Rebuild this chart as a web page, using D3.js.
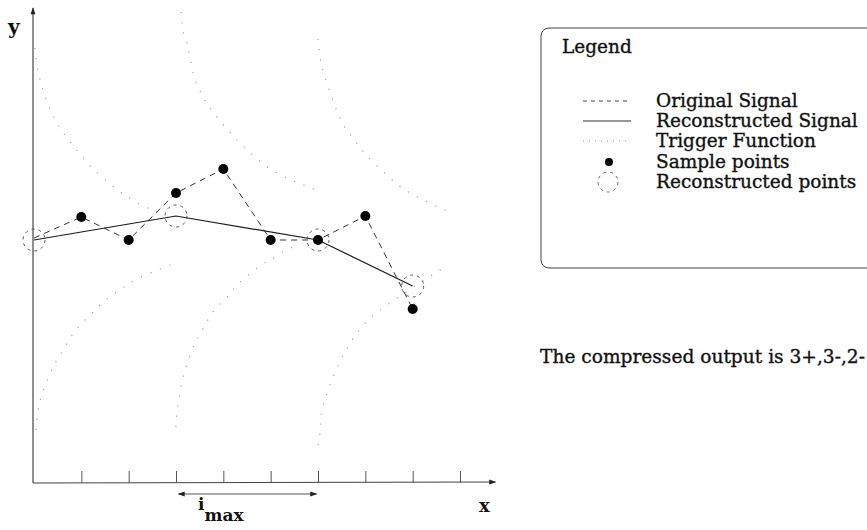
<!DOCTYPE html>
<html>
<head>
<meta charset="utf-8">
<script src="https://cdn.jsdelivr.net/npm/d3@7"></script>
<style>
  html, body { margin: 0; padding: 0; background: #fff; }
  svg { display: block; }
  text { font-family: "DejaVu Serif", "Liberation Serif", serif; fill: #111; }
  text.body { stroke: #111; stroke-width: 0.35px; }
</style>
</head>
<body>
<svg id="chart" width="867" height="530"></svg>
<script>
// Sample index and original signal values
const sampleIndex = [0, 1, 2, 3, 4, 5, 6, 7, 8];
const originalValues = [24.5, 26.6, 24.3, 29.0, 31.4, 24.3, 24.3, 26.7, 17.4];
// Samples drawn as filled dots (the first one coincides with a reconstructed point)
const dotIndex = [1, 2, 3, 4, 5, 6, 7, 8];

// Reconstructed points (segment end points) and their values
const reconIndex = [0, 3, 6, 8];
const reconValues = [24.3, 26.7, 24.3, 19.7];

// Tick positions on the x axis
const tickValues = [1, 2, 3, 4, 5, 6, 7, 8, 9];

// Trigger function bounds for each segment: [index, value]
const triggerUpper0 = [[0.02, 43.5], [0.085, 41.2], [0.19, 39.3], [0.32, 37.6], [0.55, 35.5], [0.85, 33.6], [0.97, 32.9], [1.23, 31.5], [1.80, 29.2], [2.05, 28.4], [2.35, 27.6], [2.58, 27.2], [2.79, 26.9]];
const triggerLower0 = [[0.04, 5.3], [0.085, 7.2], [0.15, 8.6], [0.40, 11.6], [0.51, 12.5], [0.68, 13.8], [0.85, 15.1], [1.08, 16.3], [1.31, 17.4], [1.54, 18.4], [1.71, 19.0], [1.90, 19.6], [2.18, 20.4], [2.56, 21.2], [2.88, 21.8]];
const triggerUpper3 = [[3.11, 47.1], [3.15, 45.1], [3.23, 44.1], [3.38, 40.7], [3.55, 38.8], [3.72, 37.5], [4.27, 34.4], [4.90, 31.7], [5.39, 30.4], [5.69, 29.8], [5.90, 29.4], [6.11, 29.1]];
const triggerLower3 = [[3.0, 5.6], [3.02, 7.1], [3.07, 8.6], [3.15, 10.6], [3.40, 14.0], [3.51, 14.9], [3.78, 17.1], [4.08, 18.6], [4.29, 19.8], [4.80, 21.8], [4.99, 22.3], [5.26, 23.1], [5.48, 23.6], [5.58, 23.8]];
const triggerUpper6 = [[6.0, 44.4], [6.07, 41.9], [6.41, 37.1], [6.55, 35.7], [6.74, 34.5], [7.02, 32.8], [7.72, 29.7], [7.91, 29.1], [8.10, 28.6], [8.18, 28.4], [8.69, 27.3], [8.86, 27.1]];
const triggerLower6 = [[6.0, 3.8], [6.05, 5.3], [6.07, 6.9], [6.11, 7.8], [6.47, 12.2], [7.02, 16.1], [8.69, 21.6]];
const triggerCurves = [triggerUpper0, triggerLower0, triggerUpper3, triggerLower3, triggerUpper6, triggerLower6];

const legendLabels = ["Original Signal", "Reconstructed Signal", "Trigger Function", "Sample points", "Reconstructed points"];
const outputText = "The compressed output is 3+,3-,2-";

const svg = d3.select("#chart");

const x = d3.scaleLinear().domain([0, 9]).range([34, 460]);
const y = d3.scaleLinear().domain([0, 47.3]).range([483, 10]);

// arrow heads
const defs = svg.append("defs");
defs.append("marker")
  .attr("id", "arrow")
  .attr("viewBox", "0 0 10 10")
  .attr("refX", 9).attr("refY", 5)
  .attr("markerWidth", 9).attr("markerHeight", 7)
  .attr("markerUnits", "userSpaceOnUse")
  .attr("orient", "auto-start-reverse")
  .append("path").attr("d", "M0,1.5 L10,5 L0,8.5 Z").attr("fill", "#222");

// axes
svg.append("line")
  .attr("x1", x(0) - 1).attr("y1", y(0))
  .attr("x2", x(0) - 1).attr("y2", y(47.3) - 2)
  .attr("stroke", "#333").attr("stroke-width", 1.1)
  .attr("marker-end", "url(#arrow)");
svg.append("line")
  .attr("x1", x(0) - 1).attr("y1", y(0))
  .attr("x2", x(9.75)).attr("y2", y(0.1))
  .attr("stroke", "#444").attr("stroke-width", 1.1)
  .attr("marker-end", "url(#arrow)");

const xAxis = d3.axisBottom(x).tickValues(tickValues).tickSize(-12).tickFormat("");
const gx = svg.append("g").attr("transform", `translate(0,${y(0)})`).call(xAxis);
gx.select(".domain").remove();
gx.selectAll(".tick line").attr("stroke", "#555").attr("stroke-width", 1);

// axis labels
svg.append("text").attr("x", 8).attr("y", 34)
  .style("font-weight", "bold").style("font-size", "20px").text("y");
svg.append("text").attr("x", 479).attr("y", 512)
  .style("font-weight", "bold").style("font-size", "18px").text("x");

// i_max bracket
svg.append("line")
  .attr("x1", x(3.05)).attr("y1", 494)
  .attr("x2", x(5.97)).attr("y2", 494)
  .attr("stroke", "#555").attr("stroke-width", 1)
  .attr("marker-start", "url(#arrow)")
  .attr("marker-end", "url(#arrow)");
const imax = svg.append("text").attr("x", 198).attr("y", 510)
  .style("font-weight", "bold").style("font-size", "17px");
imax.append("tspan").text("i");
imax.append("tspan").attr("dx", 0).attr("dy", 11).text("max");

// trigger function (dotted)
svg.append("g").selectAll("path").data(triggerCurves).join("path")
  .attr("d", d => d3.line().x(p => x(p[0])).y(p => y(p[1])).curve(d3.curveCatmullRom)(d))
  .attr("fill", "none").attr("stroke", "#9a9a9a").attr("stroke-width", 1.1)
  .attr("stroke-dasharray", "1.2 9");

// original signal (dashed)
const lineGen = d3.line().x(d => x(d[0])).y(d => y(d[1]));
svg.append("path")
  .attr("d", lineGen(sampleIndex.map((i, k) => [i, originalValues[k]])))
  .attr("fill", "none").attr("stroke", "#333").attr("stroke-width", 1)
  .attr("stroke-dasharray", "6 5");

// reconstructed signal (solid)
svg.append("path")
  .attr("d", lineGen(reconIndex.map((i, k) => [i, reconValues[k]])))
  .attr("fill", "none").attr("stroke", "#1a1a1a").attr("stroke-width", 1.2);

// reconstructed points (dashed circles)
svg.append("g").selectAll("circle").data(reconIndex).join("circle")
  .attr("cx", i => x(i)).attr("cy", (i, k) => y(reconValues[k]))
  .attr("r", 11).attr("fill", "none").attr("stroke", "#555")
  .attr("stroke-width", 1).attr("stroke-dasharray", "3 4");

// sample points
svg.append("g").selectAll("circle").data(dotIndex).join("circle")
  .attr("cx", i => x(i)).attr("cy", i => y(originalValues[i]))
  .attr("r", 5).attr("fill", "#000");

// legend
const lg = svg.append("g");
lg.append("rect").attr("x", 541).attr("y", 28).attr("width", 360).attr("height", 240)
  .attr("rx", 8).attr("fill", "none").attr("stroke", "#444").attr("stroke-width", 1);
lg.append("text").attr("class", "body").attr("x", 562).attr("y", 53).style("font-size", "18.5px").text("Legend");

const rowY = [101, 121, 141, 162, 182];
lg.selectAll("text.item").data(legendLabels).join("text").attr("class", "item body")
  .attr("x", 656).attr("y", (d, k) => rowY[k] + 6).style("font-size", "18.5px").text(d => d);

lg.append("line").attr("x1", 583).attr("x2", 631).attr("y1", rowY[0]).attr("y2", rowY[0])
  .attr("stroke", "#444").attr("stroke-dasharray", "4 4");
lg.append("line").attr("x1", 583).attr("x2", 631).attr("y1", rowY[1]).attr("y2", rowY[1])
  .attr("stroke", "#333").attr("stroke-width", 1.1);
lg.append("line").attr("x1", 583).attr("x2", 631).attr("y1", rowY[2]).attr("y2", rowY[2])
  .attr("stroke", "#999").attr("stroke-dasharray", "1 5");
lg.append("circle").attr("cx", 609).attr("cy", rowY[3]).attr("r", 4).attr("fill", "#000");
lg.append("circle").attr("cx", 608).attr("cy", rowY[4]).attr("r", 10).attr("fill", "none")
  .attr("stroke", "#666").attr("stroke-dasharray", "3 4");

svg.append("text").attr("class", "body").attr("x", 540).attr("y", 363)
  .style("font-size", "18.6px").text(outputText);
</script>
</body>
</html>
